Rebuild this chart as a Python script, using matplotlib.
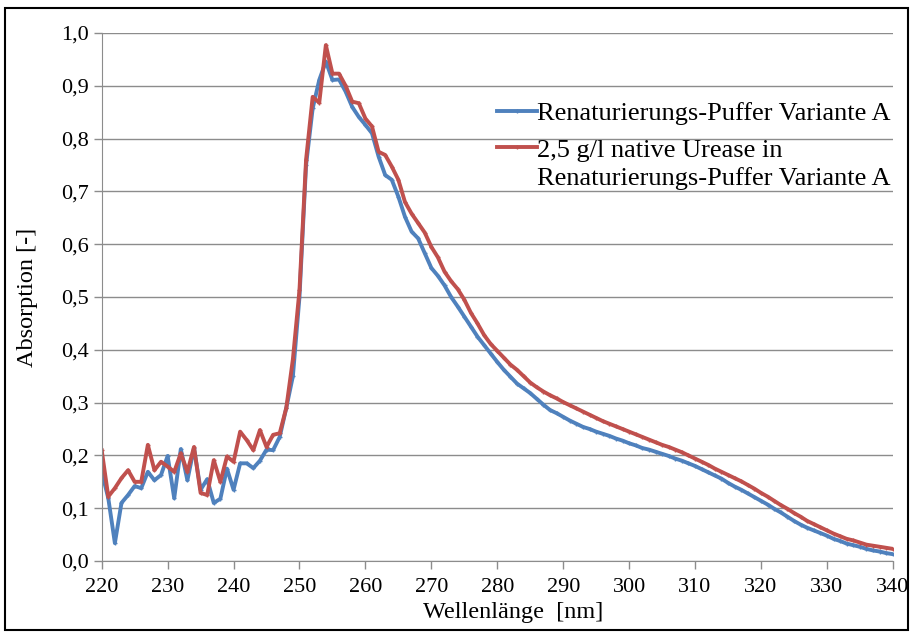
import numpy as np
import matplotlib
matplotlib.use("Agg")
from matplotlib import pyplot as plt
from matplotlib.ticker import FuncFormatter, MultipleLocator
from matplotlib.patches import Rectangle

# Wellenlaenge in nm, 1 nm Schritte
wl = np.arange(220, 341)

puffer = [0.169, 0.119, 0.034, 0.110, 0.125, 0.142, 0.138, 0.169, 0.153, 0.163,
          0.199, 0.119, 0.212, 0.153, 0.214, 0.135, 0.155, 0.110, 0.118, 0.175,
          0.135, 0.185, 0.185, 0.176, 0.190, 0.211, 0.210, 0.235, 0.290, 0.350,
          0.500, 0.750, 0.857, 0.911, 0.946, 0.911, 0.912, 0.889, 0.860, 0.841,
          0.826, 0.810, 0.766, 0.731, 0.722, 0.690, 0.652, 0.624, 0.611, 0.583,
          0.555, 0.540, 0.522, 0.500, 0.482, 0.463, 0.444, 0.425, 0.409, 0.393,
          0.377, 0.362, 0.349, 0.336, 0.327, 0.318, 0.307, 0.296, 0.286, 0.280,
          0.273, 0.266, 0.260, 0.254, 0.250, 0.245, 0.241, 0.237, 0.232, 0.228,
          0.223, 0.219, 0.214, 0.211, 0.207, 0.203, 0.199, 0.194, 0.190, 0.185,
          0.180, 0.174, 0.168, 0.162, 0.156, 0.148, 0.141, 0.135, 0.128, 0.121,
          0.114, 0.107, 0.099, 0.092, 0.084, 0.076, 0.069, 0.063, 0.058, 0.053,
          0.048, 0.042, 0.038, 0.033, 0.030, 0.027, 0.023, 0.020, 0.018, 0.015,
          0.013]

urease = [0.210, 0.122, 0.138, 0.157, 0.172, 0.150, 0.150, 0.220, 0.172, 0.188,
          0.179, 0.169, 0.204, 0.169, 0.216, 0.129, 0.125, 0.191, 0.150, 0.198,
          0.188, 0.245, 0.229, 0.210, 0.248, 0.216, 0.239, 0.242, 0.290, 0.382,
          0.513, 0.760, 0.879, 0.868, 0.977, 0.923, 0.923, 0.900, 0.870, 0.867,
          0.838, 0.823, 0.775, 0.769, 0.747, 0.722, 0.680, 0.658, 0.640, 0.622,
          0.595, 0.575, 0.548, 0.530, 0.515, 0.495, 0.470, 0.450, 0.428, 0.411,
          0.398, 0.385, 0.372, 0.362, 0.350, 0.338, 0.329, 0.321, 0.314, 0.308,
          0.301, 0.295, 0.289, 0.283, 0.277, 0.271, 0.265, 0.260, 0.255, 0.250,
          0.245, 0.240, 0.235, 0.230, 0.225, 0.220, 0.216, 0.211, 0.206, 0.200,
          0.194, 0.188, 0.182, 0.175, 0.169, 0.163, 0.157, 0.151, 0.144, 0.137,
          0.129, 0.122, 0.114, 0.106, 0.099, 0.091, 0.084, 0.076, 0.070, 0.064,
          0.058, 0.052, 0.047, 0.042, 0.039, 0.035, 0.031, 0.029, 0.027, 0.025,
          0.023]

labels = ["Renaturierungs-Puffer Variante A",
          "2,5 g/l native Urease in\nRenaturierungs-Puffer Variante A"]

plt.rcParams['font.family'] = ['Liberation Serif', 'DejaVu Serif']

fig = plt.figure(figsize=(9.12, 6.32), dpi=100)
ax = fig.add_axes([0.1115, 0.1123, 0.979 - 0.1115, 0.9478 - 0.1123])

blau = '#4F81BD'
rot = '#C0504D'
ax.plot(wl, puffer, color=blau, lw=2.8, marker='+', ms=3, mew=1, label=labels[0])
ax.plot(wl, urease, color=rot, lw=2.8, marker='+', ms=3, mew=1, label=labels[1])

ax.set_xlim(220, 340)
ax.set_ylim(0, 1.0)
ax.xaxis.set_major_locator(MultipleLocator(10))
ax.yaxis.set_major_locator(MultipleLocator(0.1))
ax.yaxis.set_major_formatter(FuncFormatter(lambda v, p: ('%.1f' % v).replace('.', ',')))

ax.grid(axis='y', color='#8c8c8c', lw=1)
ax.set_axisbelow(True)
for s in ['top', 'right']:
    ax.spines[s].set_visible(False)
for s in ['left', 'bottom']:
    ax.spines[s].set_color('#8c8c8c')
ax.tick_params(axis='both', colors='#8c8c8c', labelcolor='black', labelsize=16,
               length=6, width=1)
ax.tick_params(axis='x', pad=6)

ax.set_xlabel('Wellenlänge  [nm]', fontsize=17.5)
ax.set_ylabel('Absorption [-]', fontsize=17.5)
ax.xaxis.set_label_coords(0.52, -0.078)
ax.yaxis.set_label_coords(-0.08, 0.5)

fs = 19
leg = ax.legend(loc='upper left', bbox_to_anchor=(497 / 912, 1 - 102 / 632),
                bbox_transform=fig.transFigure, frameon=False, fontsize=fs,
                handlelength=1.5, handletextpad=0.0, labelspacing=0.55,
                borderpad=0, borderaxespad=0)
leg.get_texts()[1].set_linespacing(1.3)
# Linie des zweiten Eintrags auf Hoehe der ersten Textzeile
l2 = leg.get_lines()[1]
l2.set_ydata(np.asarray(l2.get_ydata()) + 0.65 * fs)

fig.patches.append(Rectangle((5 / 912, 2 / 632), 903 / 912, 622 / 632,
                             transform=fig.transFigure, fill=False,
                             edgecolor='black', lw=1.5))

fig.savefig('out.png', dpi=100)
